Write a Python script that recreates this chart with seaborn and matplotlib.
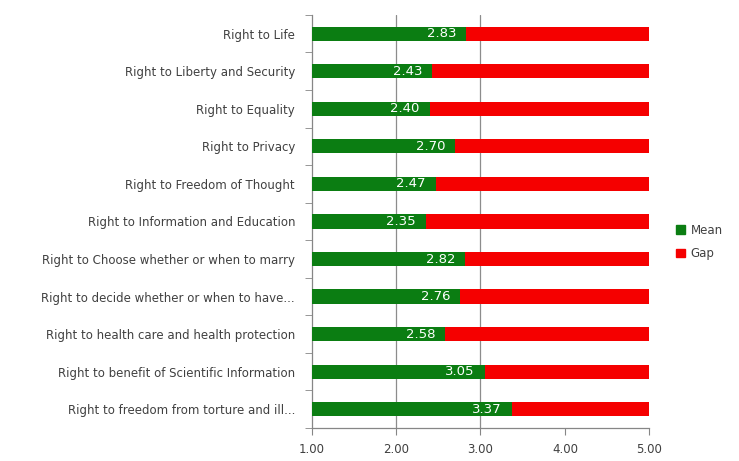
import matplotlib
matplotlib.use('Agg')
import matplotlib.pyplot as plt
import seaborn as sns
import pandas as pd
from matplotlib.patches import Patch

# 数据
rights = [
    'Right to Life',
    'Right to Liberty and Security',
    'Right to Equality',
    'Right to Privacy',
    'Right to Freedom of Thought',
    'Right to Information and Education',
    'Right to Choose whether or when to marry',
    'Right to decide whether or when to have...',
    'Right to health care and health protection',
    'Right to benefit of Scientific Information',
    'Right to freedom from torture and ill...',
]
mean_vals = [2.83, 2.43, 2.40, 2.70, 2.47, 2.35, 2.82, 2.76, 2.58, 3.05, 3.37]
scale_max = 5.0
x_ticks = [1, 2, 3, 4, 5]

green = '#0b7d12'
red = '#f50000'
text_col = '#404040'

df = pd.DataFrame({'right': rights, 'mean': mean_vals})
df['gap'] = scale_max - df['mean']
df['total'] = df['mean'] + df['gap']

sns.set_style('white')
plt.rcParams['font.family'] = ['DejaVu Sans']

fig = plt.figure(figsize=(7.39, 4.61), dpi=100)
ax = fig.add_axes([0.4218, 0.0716, 0.4568, 0.896])

# 网格线
for g in [2, 3]:
    ax.axvline(g, color='#8c8c8c', lw=0.9, zorder=0)

# 红色 Gap (整条) + 绿色 Mean (叠加)
sns.barplot(data=df, x='total', y='right', color=red, width=0.38,
            saturation=1, linewidth=0, ax=ax, zorder=2)
sns.barplot(data=df, x='mean', y='right', color=green, width=0.38,
            saturation=1, linewidth=0, ax=ax, zorder=3)

# 数值标签 (内侧末端)
for i, m in enumerate(df['mean']):
    ax.annotate(f'{m:.2f}', xy=(m, i), xytext=(-10, 0), textcoords='offset pixels',
                ha='right', va='center', color='white', fontsize=9.5, zorder=4)

ax.set_xlim(1, 5)
ax.set_ylim(len(rights) - 0.5, -0.5)
ax.set_xticks(x_ticks)
ax.set_xticklabels([f'{t:.2f}' for t in x_ticks], color=text_col, fontsize=8.5)
ax.set_xlabel('')
ax.set_ylabel('')
ax.tick_params(axis='y', length=0, pad=12, labelsize=8.5, labelcolor=text_col)
ax.set_yticks([i + 0.5 for i in range(-1, len(rights))], minor=True)
ax.tick_params(axis='y', which='minor', length=5, color='#868686', direction='out', left=True)
ax.tick_params(axis='x', length=5, color='#868686', direction='out', bottom=True, pad=6)

for s in ['top', 'right']:
    ax.spines[s].set_visible(False)
for s in ['left', 'bottom']:
    ax.spines[s].set_color('#868686')
    ax.spines[s].set_linewidth(0.9)

handles = [Patch(color=green, label='Mean'), Patch(color=red, label='Gap')]
fig.legend(handles=handles, loc='center left', bbox_to_anchor=(0.912, 0.475),
           frameon=False, fontsize=8.5, handlelength=0.7, handleheight=0.7,
           handletextpad=0.5, labelspacing=0.9, labelcolor=text_col,
           borderaxespad=0, borderpad=0.2)

fig.savefig('out.png', dpi=100, facecolor='white')
